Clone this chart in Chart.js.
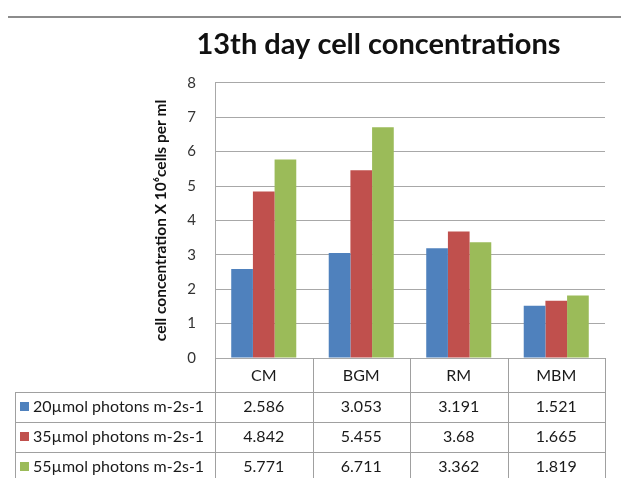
<!DOCTYPE html>
<html>
<head>
<meta charset="utf-8">
<script src="https://cdn.jsdelivr.net/npm/chart.js@4.4.1/dist/chart.umd.min.js"></script>
<style>
  html, body { margin: 0; padding: 0; background: #fff; }
  #wrap { width: 621px; height: 478px; }
</style>
</head>
<body>
<div id="wrap"><canvas id="chartCanvas" width="621" height="478"></canvas></div>
<script>
const categories = ['CM', 'BGM', 'RM', 'MBM'];
const seriesNames = ['20µmol photons m-2s-1', '35µmol photons m-2s-1', '55µmol photons m-2s-1'];
const low = [2.586, 3.053, 3.191, 1.521];
const mid = [4.842, 5.455, 3.68, 1.665];
const high = [5.771, 6.711, 3.362, 1.819];
const seriesColors = ['#4F81BD', '#C0504D', '#9BBB59'];
const yTicks = [0, 1, 2, 3, 4, 5, 6, 7, 8];

const FONT = 'Lato, "Liberation Sans", sans-serif';
const allSeries = [low, mid, high];

// excel style data table under the plot
const dataTable = {
    id: 'dataTable',
    beforeDraw(chart) {
        const ctx = chart.ctx;
        ctx.save();
        ctx.strokeStyle = '#8c8c8c';
        ctx.lineWidth = 2;
        ctx.beginPath();
        ctx.moveTo(8, 17);
        ctx.lineTo(chart.width, 17);
        ctx.stroke();
        ctx.restore();
    },
    afterDraw(chart) {
        const ctx = chart.ctx;
        const area = chart.chartArea;
        const x = chart.scales.x;
        const colW = x.getPixelForValue(1) - x.getPixelForValue(0);
        const headH = 34, rowH = 30, tableLeft = 15;
        const top = area.bottom;
        const bottom = chart.height + 4;
        ctx.save();
        ctx.strokeStyle = '#a0a0a0';
        ctx.lineWidth = 1;
        ctx.beginPath();
        // vertical lines
        for (let k = 0; k <= categories.length; k++) {
            const vx = Math.round(area.left + k * colW) + 0.5;
            ctx.moveTo(vx, top);
            ctx.lineTo(vx, bottom);
        }
        ctx.moveTo(tableLeft + 0.5, top + headH);
        ctx.lineTo(tableLeft + 0.5, bottom);
        // horizontal lines
        ctx.moveTo(area.left, Math.round(top + headH) + 0.5);
        ctx.lineTo(area.right, Math.round(top + headH) + 0.5);
        for (let r = 0; r < allSeries.length; r++) {
            const hy = Math.round(top + headH + r * rowH) + 0.5;
            ctx.moveTo(tableLeft, hy);
            ctx.lineTo(area.right, hy);
        }
        ctx.stroke();

        ctx.fillStyle = '#1a1a1a';
        ctx.textAlign = 'center';
        ctx.textBaseline = 'middle';
        ctx.font = '16px ' + FONT;
        categories.forEach((c, i) => {
            ctx.fillText(c, x.getPixelForValue(i), top + headH / 2 + 1);
        });
        allSeries.forEach((vals, r) => {
            const cy = top + headH + r * rowH + rowH / 2;
            vals.forEach((v, i) => {
                ctx.fillText(String(v), x.getPixelForValue(i), cy);
            });
            ctx.fillStyle = seriesColors[r];
            ctx.fillRect(tableLeft + 5, cy - 5, 9, 9);
            ctx.fillStyle = '#1a1a1a';
            ctx.textAlign = 'left';
            ctx.fillText(seriesNames[r], tableLeft + 18, cy);
            ctx.textAlign = 'center';
        });
        ctx.restore();
    }
};

const ctx = document.getElementById('chartCanvas').getContext('2d');
new Chart(ctx, {
    type: 'bar',
    data: {
        labels: categories,
        datasets: allSeries.map((vals, i) => ({
            label: seriesNames[i],
            data: vals,
            backgroundColor: seriesColors[i],
            borderWidth: 0,
            barPercentage: 1,
            categoryPercentage: 0.667
        }))
    },
    options: {
        responsive: false,
        animation: false,
        layout: { padding: { left: 152, right: 16, top: 0, bottom: 120 } },
        plugins: {
            legend: { display: false },
            tooltip: { enabled: false },
            title: {
                display: true,
                text: '13th day cell concentrations',
                color: '#111',
                font: { family: FONT, size: 29, weight: 'bold' },
                padding: { top: 27, bottom: 21 }
            }
        },
        scales: {
            x: {
                grid: { display: false, drawTicks: false },
                border: { display: false },
                ticks: { display: false },
                afterFit: s => { s.height = 0; }
            },
            y: {
                min: 0,
                max: 8,
                afterBuildTicks: s => { s.ticks = yTicks.map(v => ({ value: v })); },
                afterFit: s => { s.width = 63; },
                grid: { color: '#a8a8a8', drawTicks: false },
                border: { color: '#a8a8a8' },
                ticks: { color: '#333', padding: 19, font: { family: FONT, size: 15 } },
                title: {
                    display: true,
                    text: 'cell concentration X 10⁶cells per ml',
                    color: '#111',
                    font: { family: FONT, size: 15.5, weight: 'bold' },
                    padding: 0
                }
            }
        }
    },
    plugins: [dataTable]
});
</script>
</body>
</html>
